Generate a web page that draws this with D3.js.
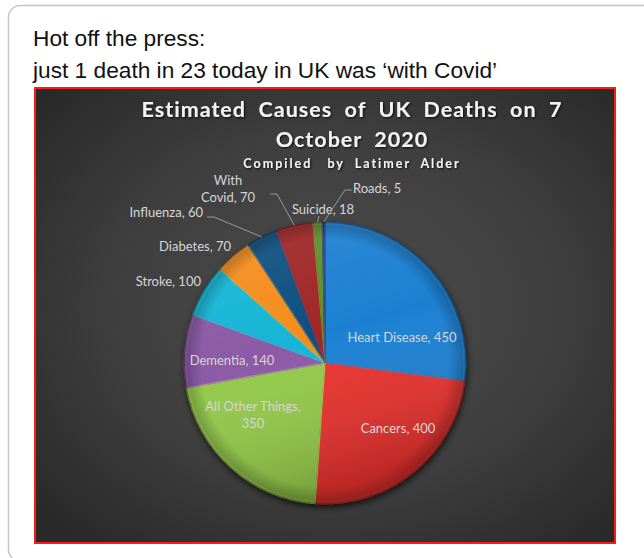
<!DOCTYPE html>
<html>
<head>
<meta charset="utf-8">
<script src="https://cdn.jsdelivr.net/npm/d3@7/dist/d3.min.js"></script>
<style>
  html, body { margin: 0; padding: 0; background: #ffffff; }
  svg { display: block; }
</style>
</head>
<body>
<script>
// ---------------- data ----------------
const categories = ["Heart Disease", "Cancers", "All Other Things", "Dementia", "Stroke",
                    "Diabetes", "Influenza", "With Covid", "Suicide", "Roads"];
const deaths = [450, 400, 350, 140, 100, 70, 60, 70, 18, 5];
const sliceColors = ["#1f80d2", "#e8332f", "#93c94a", "#8c5aa6", "#17b5d6",
                     "#f58d1f", "#0e4f80", "#a02526", "#5b8f29", "#2c2a72"];
const headerLines = ["Hot off the press:", "just 1 death in 23 today in UK was \u2018with Covid\u2019"];
const titleLines = ["Estimated  Causes  of  UK  Deaths  on  7", "October  2020"];
const subtitle = "Compiled   by  Latimer  Alder";

// label layout (offsets from pie centre), not data
const labelLayout = {
  "Heart Disease":    { lines: ["Heart Disease, 450"], dx: 77, dy: -26, anchor: "middle" },
  "Cancers":          { lines: ["Cancers, 400"], dx: 73, dy: 65, anchor: "middle" },
  "All Other Things": { lines: ["All Other Things,", "350"], dx: -72, dy: 52, anchor: "middle" },
  "Dementia":         { lines: ["Dementia, 140"], dx: -93, dy: -3, anchor: "middle" },
  "Stroke":           { lines: ["Stroke, 100"], dx: -124, dy: -82, anchor: "end" },
  "Diabetes":         { lines: ["Diabetes, 70"], dx: -94, dy: -117, anchor: "end" },
  "Influenza":        { lines: ["Influenza, 60"], dx: -122, dy: -151, anchor: "end",
                        leader: [[-111, -146], [-118, -146]] },
  "With Covid":       { lines: ["With", "Covid, 70"], dx: -97, dy: -174, anchor: "middle",
                        leader: [[-48, -169], [-55, -169]] },
  "Suicide":          { lines: ["Suicide, 18"], dx: -2, dy: -154, anchor: "middle",
                        leader: [[-6, -147]] },
  "Roads":            { lines: ["Roads, 5"], dx: 28, dy: -175, anchor: "start",
                        leader: [[20, -173], [27, -173]] }
};

// ---------------- layout ----------------
const W = 644, H = 558;
const cx = 325, cy = 363, R = 141;
const keepSpaces = s => s.replace(/ /g, "\u00A0");

const svg = d3.select("body").append("svg").attr("width", W).attr("height", H);
const defs = svg.append("defs");

// background radial gradient
const bg = defs.append("radialGradient").attr("id", "bgGrad")
  .attr("cx", "52%").attr("cy", "48%").attr("r", "68%");
bg.append("stop").attr("offset", "0%").attr("stop-color", "#4c4c4c");
bg.append("stop").attr("offset", "55%").attr("stop-color", "#3f3f3f");
bg.append("stop").attr("offset", "100%").attr("stop-color", "#292929");

// pie overlay shading
const sh = defs.append("linearGradient").attr("id", "shade")
  .attr("x1", "0").attr("y1", "0").attr("x2", "0.3").attr("y2", "1");
sh.append("stop").attr("offset", "0%").attr("stop-color", "#ffffff").attr("stop-opacity", 0.10);
sh.append("stop").attr("offset", "50%").attr("stop-color", "#ffffff").attr("stop-opacity", 0);
sh.append("stop").attr("offset", "100%").attr("stop-color", "#000000").attr("stop-opacity", 0.18);

const rim = defs.append("radialGradient").attr("id", "rim")
  .attr("cx", "50%").attr("cy", "50%").attr("r", "50%");
rim.append("stop").attr("offset", "0%").attr("stop-color", "#000").attr("stop-opacity", 0);
rim.append("stop").attr("offset", "88%").attr("stop-color", "#000").attr("stop-opacity", 0);
rim.append("stop").attr("offset", "100%").attr("stop-color", "#000").attr("stop-opacity", 0.25);

const ds = defs.append("filter").attr("id", "pieShadow")
  .attr("x", "-20%").attr("y", "-20%").attr("width", "140%").attr("height", "140%");
ds.append("feDropShadow").attr("dx", 1).attr("dy", 3).attr("stdDeviation", 3)
  .attr("flood-color", "#000").attr("flood-opacity", 0.7);

const ts = defs.append("filter").attr("id", "textShadow")
  .attr("x", "-10%").attr("y", "-30%").attr("width", "120%").attr("height", "160%");
ts.append("feDropShadow").attr("dx", 1).attr("dy", 1).attr("stdDeviation", 0.8)
  .attr("flood-color", "#000").attr("flood-opacity", 0.85);

// card
svg.append("rect").attr("x", 8.5).attr("y", 5.5).attr("width", 700).attr("height", 556)
  .attr("rx", 12).attr("fill", "#ffffff").attr("stroke", "#c6c6c6").attr("stroke-width", 1.5);

// header text
const header = svg.append("g").attr("font-family", "Liberation Sans, Arial, Helvetica, sans-serif")
  .attr("font-size", 22.7).attr("fill", "#111");
headerLines.forEach((t, i) => {
  header.append("text").attr("x", 33).attr("y", 46 + i * 32).text(t);
});

// chart panel
svg.append("rect").attr("x", 35).attr("y", 88).attr("width", 580).attr("height", 455)
  .attr("fill", "url(#bgGrad)").attr("stroke", "#ff1a1a").attr("stroke-width", 2);

// titles
const tg = svg.append("g").attr("font-family", "Lato, 'Open Sans', sans-serif")
  .attr("font-weight", "bold").attr("fill", "#f2f2f2").attr("text-anchor", "middle")
  .attr("filter", "url(#textShadow)");
titleLines.forEach((t, i) => {
  tg.append("text").attr("x", 352).attr("y", 117 + i * 30).attr("font-size", 21.5)
    .attr("letter-spacing", 1.0).text(keepSpaces(t));
});
tg.append("text").attr("x", 352).attr("y", 168).attr("font-size", 12.5)
  .attr("letter-spacing", 2.0).text(keepSpaces(subtitle));

// pie
const pie = d3.pie().sort(null).value(d => d.value);
const data = categories.map((c, i) => ({ name: c, value: deaths[i], color: sliceColors[i] }));
const arcs = pie(data);
const arc = d3.arc().innerRadius(0).outerRadius(R);
const arcInner = d3.arc().innerRadius(0).outerRadius(R - 2);

const pg = svg.append("g").attr("transform", `translate(${cx},${cy})`);
const slices = pg.append("g").attr("filter", "url(#pieShadow)");
slices.selectAll("path.slice").data(arcs).join("path").attr("class", "slice")
  .attr("d", arc).attr("fill", d => d.data.color)
  .attr("stroke", d => d3.color(d.data.color).darker(1.2)).attr("stroke-width", 1);
// bevel highlight
pg.selectAll("path.bevel").data(arcs).join("path").attr("class", "bevel")
  .attr("d", arcInner).attr("fill", "none")
  .attr("stroke", d => d3.color(d.data.color).brighter(0.7)).attr("stroke-width", 1.2)
  .attr("stroke-opacity", 0.55);
pg.append("circle").attr("r", R).attr("fill", "url(#shade)");
pg.append("circle").attr("r", R).attr("fill", "url(#rim)");

// labels
const lg = pg.append("g").attr("font-family", "Lato, 'Open Sans', sans-serif")
  .attr("font-size", 13).attr("fill", "#d6d6d6");
arcs.forEach(a => {
  const L = labelLayout[a.data.name];
  const lh = 17;
  const y0 = L.dy - (L.lines.length - 1) * lh / 2;
  const t = lg.append("text").attr("text-anchor", L.anchor);
  L.lines.forEach((s, i) => {
    t.append("tspan").attr("x", L.dx).attr("y", y0 + i * lh).attr("dy", "0.35em").text(s);
  });
  if (L.leader) {
    const mid = (a.startAngle + a.endAngle) / 2;
    const p0 = [Math.sin(mid) * R, -Math.cos(mid) * R];
    const pts = [p0].concat(L.leader);
    pg.append("path").attr("d", d3.line()(pts)).attr("fill", "none")
      .attr("stroke", "#9a9a9a").attr("stroke-width", 1);
  }
});
</script>
</body>
</html>
